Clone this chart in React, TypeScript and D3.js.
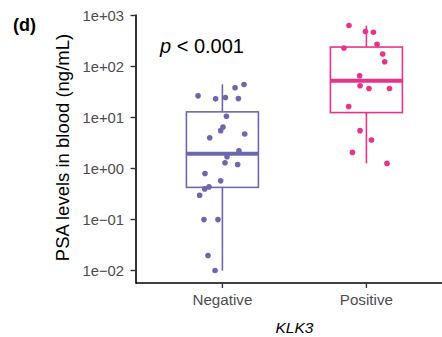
import React, { useEffect, useRef } from 'react';
import * as d3 from 'd3';

const categories = ['Negative', 'Positive'];
const colors = ['#6b68ae', '#e8338b'];

// PSA values (ng/mL), with their horizontal jitter (in category units)
const negativeValues = [26.6, 23.2, 24.7, 38.3, 44.5, 23.5, 10.6, 6.53, 5.52, 4.02, 4.75, 2.23,
  1.70, 1.29, 1.20, 0.80, 0.573, 0.436, 0.398, 0.299, 0.0995, 0.0995, 0.0197, 0.01];
const negativeJitter = [-0.169, -0.047, 0.021, 0.088, 0.15, 0.111, 0.028, 0.004, -0.012, -0.088, 0.155, 0.115,
  0.032, 0.018, 0.106, -0.121, -0.012, -0.093, -0.123, -0.158, -0.128, -0.031, -0.1, -0.051];
const positiveValues = [636, 484, 469, 272, 231, 176, 124, 65.9, 41.9, 37.1, 37.1, 16.4, 5.52, 3.62, 2.07, 1.26];
const positiveJitter = [-0.121, -0.007, 0.049, 0.074, -0.156, 0.113, 0.127, -0.047, -0.044, 0.018, 0.16,
  -0.123, -0.044, 0.035, -0.097, 0.143];

const yTicks = [1e-2, 1e-1, 1e0, 1e1, 1e2, 1e3];
const yTickLabels = ['1e\u221202', '1e\u221201', '1e+00', '1e+01', '1e+02', '1e+03'];

const font = 'Liberation Sans, Arial, sans-serif';

export default function App() {
  const ref = useRef<SVGSVGElement>(null);

  useEffect(() => {
    const svg = d3.select(ref.current);
    svg.selectAll('*').remove();

    const width = 442;
    const left = 136, bottom = 283, top = 15;

    const x = d3.scaleLinear().domain([0.4, 2.6]).range([left, 452.8]);
    const y = d3.scaleLog().domain([1e-2, 1e3]).range([270.5, 15.5]);

    const groups = [
      { values: negativeValues, jitter: negativeJitter },
      { values: positiveValues, jitter: positiveJitter },
    ];

    // axes
    svg.append('line').attr('x1', left).attr('x2', width).attr('y1', bottom).attr('y2', bottom)
      .attr('stroke', '#000').attr('stroke-width', 1.6);
    svg.append('line').attr('x1', left).attr('x2', left).attr('y1', top - 0.5).attr('y2', bottom + 0.8)
      .attr('stroke', '#000').attr('stroke-width', 1.6);

    const yt = svg.append('g');
    yTicks.forEach((t, i) => {
      yt.append('line').attr('x1', left - 5.5).attr('x2', left).attr('y1', y(t)).attr('y2', y(t))
        .attr('stroke', '#333').attr('stroke-width', 1.4);
      yt.append('text').attr('x', left - 12).attr('y', y(t)).attr('dy', '0.35em')
        .attr('text-anchor', 'end').attr('font-family', font).attr('font-size', 14.8)
        .attr('fill', '#4d4d4d').text(yTickLabels[i]);
    });

    categories.forEach((c, i) => {
      const cx = x(i + 1);
      svg.append('line').attr('x1', cx).attr('x2', cx).attr('y1', bottom).attr('y2', bottom + 5)
        .attr('stroke', '#333').attr('stroke-width', 1.4);
      svg.append('text').attr('x', cx).attr('y', 305)
        .attr('text-anchor', 'middle').attr('font-family', font).attr('font-size', 15.2)
        .attr('fill', '#4d4d4d').text(c);
    });

    svg.append('text').attr('x', (left + 452.8) / 2).attr('y', 333)
      .attr('text-anchor', 'middle').attr('font-family', font).attr('font-size', 15.5)
      .attr('font-style', 'italic').attr('fill', '#000').text('KLK3');

    svg.append('text').attr('transform', 'translate(69,147.5) rotate(-90)')
      .attr('text-anchor', 'middle').attr('font-family', font).attr('font-size', 18.5)
      .attr('fill', '#000').text('PSA levels in blood (ng/mL)');

    svg.append('text').attr('x', 13).attr('y', 31).attr('font-family', font).attr('font-size', 18)
      .attr('font-weight', 'bold').text('(d)');

    const pt = svg.append('text').attr('x', 160).attr('y', 53).attr('font-family', font)
      .attr('font-size', 20).attr('fill', '#000');
    pt.append('tspan').attr('font-style', 'italic').text('p');
    pt.append('tspan').text(' < 0.001');

    // boxplots (stats computed on log scale, like ggplot)
    groups.forEach((g, i) => {
      const cx = x(i + 1);
      const col = colors[i];
      const logs = g.values.map(v => Math.log10(v)).sort(d3.ascending);
      const q1 = d3.quantile(logs, 0.25)!;
      const med = d3.quantile(logs, 0.5)!;
      const q3 = d3.quantile(logs, 0.75)!;
      const iqr = q3 - q1;
      const lo = d3.min(logs.filter(l => l >= q1 - 1.5 * iqr))!;
      const hi = d3.max(logs.filter(l => l <= q3 + 1.5 * iqr))!;
      const p = (l: number) => y(Math.pow(10, l));
      const half = x(1.25) - x(1);
      const bg = svg.append('g').attr('stroke', col).attr('fill', 'none');
      bg.append('line').attr('x1', cx).attr('x2', cx).attr('y1', p(hi)).attr('y2', p(q3)).attr('stroke-width', 1.6);
      bg.append('line').attr('x1', cx).attr('x2', cx).attr('y1', p(q1)).attr('y2', p(lo)).attr('stroke-width', 1.6);
      bg.append('rect').attr('x', cx - half).attr('y', p(q3)).attr('width', half * 2)
        .attr('height', p(q1) - p(q3)).attr('fill', '#fff').attr('stroke-width', 1.6);
      bg.append('line').attr('x1', cx - half).attr('x2', cx + half).attr('y1', p(med)).attr('y2', p(med))
        .attr('stroke-width', 4);

      svg.append('g').selectAll('circle').data(g.values).enter().append('circle')
        .attr('cx', (d, j) => x(i + 1 + g.jitter[j]))
        .attr('cy', d => y(d))
        .attr('r', 2.8)
        .attr('fill', col);
    });
  }, []);

  return (
    <svg ref={ref} width={442} height={337}
      style={{ position: 'absolute', left: 0, top: 0, background: '#fff' }} />
  );
}
